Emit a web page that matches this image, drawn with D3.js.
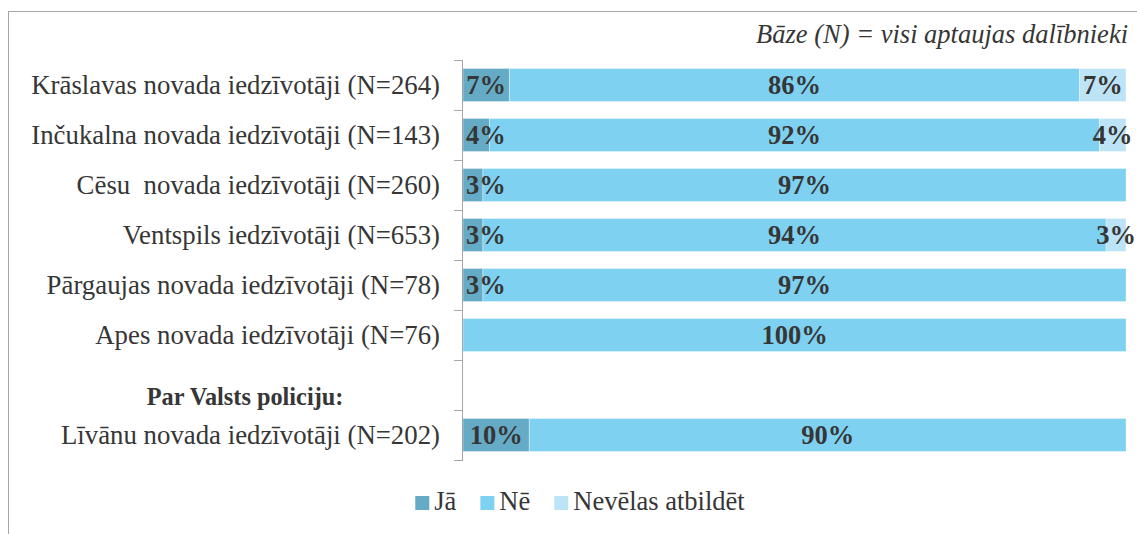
<!DOCTYPE html>
<html>
<head>
<meta charset="utf-8">
<script src="https://cdn.jsdelivr.net/npm/d3@7.9.0/dist/d3.min.js"></script>
<style>
  body { margin: 0; background: #fff; }
  svg text { font-family: "Liberation Serif", "Times New Roman", serif; white-space: pre; }
</style>
</head>
<body>
<svg id="chart" width="1137" height="534"></svg>
<script>
// data
const categories = [
  "Krāslavas novada iedzīvotāji (N=264)",
  "Inčukalna novada iedzīvotāji (N=143)",
  "Cēsu  novada iedzīvotāji (N=260)",
  "Ventspils iedzīvotāji (N=653)",
  "Pārgaujas novada iedzīvotāji (N=78)",
  "Apes novada iedzīvotāji (N=76)",
  "",
  "Līvānu novada iedzīvotāji (N=202)"
];
const seriesNames = ["Jā", "Nē", "Nevēlas atbildēt"];
const ja      = [7, 4, 3, 3, 3, 0, null, 10];
const ne      = [86, 92, 97, 94, 97, 100, null, 90];
const nevelas = [7, 4, 0, 3, 0, 0, null, 0];
const colors = ["#66abc6", "#7ed1f1", "#bde4f6"];
const groupLabel = "Par Valsts policiju:";
const baseNote = "Bāze (N) = visi aptaujas dalībnieki";

const svg = d3.select("#chart");
const textCol = "#363636";

// frame
svg.append("rect")
  .attr("x", 8.5).attr("y", 11.5)
  .attr("width", 1300).attr("height", 700)
  .attr("fill", "none").attr("stroke", "#a6a6a6");

const x = d3.scaleLinear().domain([0, 100]).range([463, 1126]);
const y = d3.scaleBand().domain(d3.range(categories.length)).range([60, 460])
  .paddingInner(0.34).paddingOuter(0.17);

// stacked rows
const rows = categories.map((c, i) => ({ i, "Jā": ja[i], "Nē": ne[i], "Nevēlas atbildēt": nevelas[i] }))
  .filter(d => d["Nē"] != null);
const stack = d3.stack().keys(seriesNames)(rows);

const labels = svg.append("g");
stack.forEach((layer, k) => {
  const g = svg.append("g");
  layer.forEach(seg => {
    const v = seg[1] - seg[0];
    if (v <= 0) return;
    const yy = y(seg.data.i);
    g.append("rect")
      .attr("x", x(seg[0])).attr("y", yy)
      .attr("width", x(seg[1]) - x(seg[0])).attr("height", y.bandwidth())
      .attr("fill", colors[k])
      .attr("stroke", "#fff").attr("stroke-opacity", 0.35).attr("stroke-width", 1);
    const t = labels.append("text")
      .attr("y", yy + y.bandwidth() / 2)
      .attr("dy", "0.35em")
      .attr("text-anchor", "middle")
      .attr("font-size", 26.5).attr("font-weight", "bold")
      .attr("fill", textCol)
      .text(v + "%");
    const w = t.node().getComputedTextLength();
    let cx = (x(seg[0]) + x(seg[1])) / 2;
    if (k === 0) cx = Math.max(cx, x(0) + 3 + w / 2);
    t.attr("x", cx);
  });
});
labels.raise();

// category axis
const step = y.step();
const axis = svg.append("g").attr("stroke", "#a6a6a6").attr("fill", "none");
axis.append("line").attr("x1", 462.5).attr("x2", 462.5).attr("y1", 60).attr("y2", 461);
d3.range(categories.length + 1).forEach(j => {
  const ty = Math.round(60 + j * step) + 0.5;
  axis.append("line").attr("x1", 454).attr("x2", 462.5).attr("y1", ty).attr("y2", ty);
});

categories.forEach((c, i) => {
  if (!c) return;
  svg.append("text")
    .attr("x", 440)
    .attr("y", y(i) + y.bandwidth() / 2)
    .attr("dy", "0.35em")
    .attr("text-anchor", "end")
    .attr("font-size", 26.8).attr("fill", textCol)
    .text(c);
});

svg.append("text")
  .attr("x", 245).attr("y", 405)
  .attr("text-anchor", "middle")
  .attr("font-size", 24.3).attr("font-weight", "bold").attr("fill", textCol)
  .text(groupLabel);

svg.append("text")
  .attr("x", 1128).attr("y", 43)
  .attr("text-anchor", "end")
  .attr("font-size", 26.5).attr("font-style", "italic").attr("fill", textCol)
  .text(baseNote);

// legend
const leg = svg.append("g");
let lx = 0;
seriesNames.forEach((s, k) => {
  leg.append("rect").attr("x", lx).attr("y", 496).attr("width", 14).attr("height", 14).attr("fill", colors[k]);
  const t = leg.append("text").attr("x", lx + 19).attr("y", 510)
    .attr("font-size", 26.5).attr("fill", textCol).text(s);
  lx += 19 + t.node().getComputedTextLength() + 24;
});
const legW = lx - 24;
leg.attr("transform", `translate(${580 - legW / 2},0)`);
</script>
</body>
</html>
